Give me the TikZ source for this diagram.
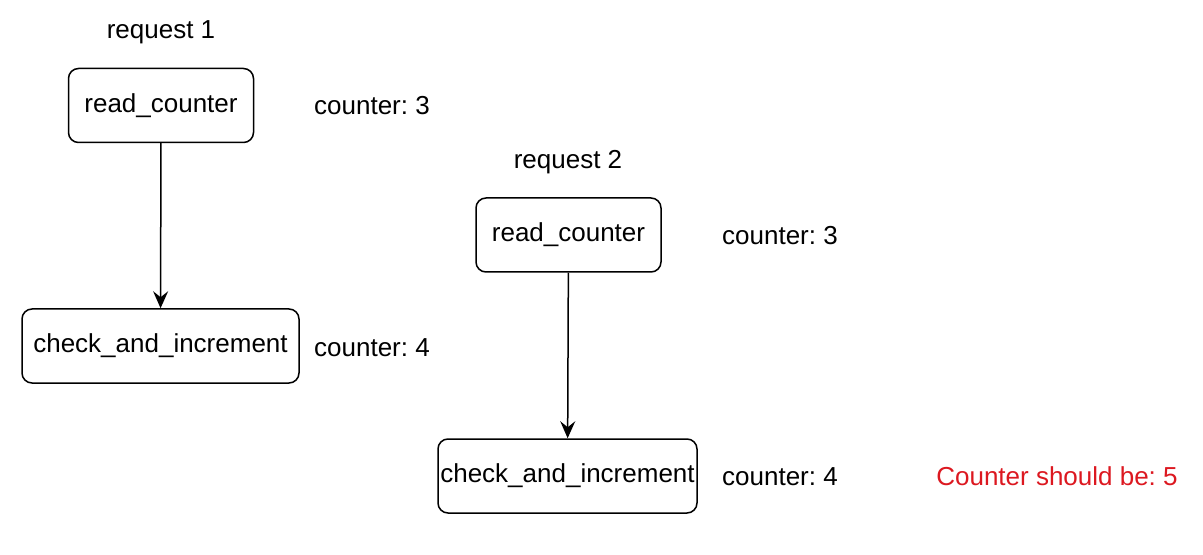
\documentclass[tikz,border=0pt]{standalone}
\usepackage{fontspec}
\setmainfont{Liberation Sans}
\usetikzlibrary{arrows.meta}
\definecolor{warnred}{RGB}{220,24,32}
\frenchspacing

\begin{document}
\begin{tikzpicture}[x=0.5pt,y=-0.5pt,font=\fontsize{13}{15}\selectfont]
	\tikzstyle{StepBox}=[draw,line width=0.75pt,rounded corners=5pt,inner sep=0pt,minimum height=37pt]
	\tikzstyle{Note}=[inner sep=0pt]
	\tikzstyle{Flow}=[line width=0.75pt,-{Stealth[length=8.5pt,width=7.5pt,inset=3pt]}]
	\useasboundingbox (0,0) rectangle (1203,555);
	\node[Note] (req1) at (161,32) {request 1};
	\node[StepBox,minimum width=92.5pt] (read1) at (161,105.5) {read\_counter};
	\node[StepBox,minimum width=138.5pt] (check1) at (160.5,346) {check\_and\_increment};
	\node[Note] (val1a) at (372,106) {counter: 3};
	\node[Note] (val1b) at (372,348) {counter: 4};
	\node[Note] (req2) at (568,162) {request 2};
	\node[StepBox,minimum width=92.5pt] (read2) at (568.5,235) {read\_counter};
	\node[StepBox,minimum width=129.5pt] (check2) at (567.5,476) {check\_and\_increment};
	\node[Note] (val2a) at (780,236) {counter: 3};
	\node[Note] (val2b) at (780,477) {counter: 4};
	\node[Note,text=warnred] (expect) at (1057,476) {Counter should be: 5};
	\draw[Flow] (read1) -- (check1);
	\draw[Flow] (read2) -- (check2);
\end{tikzpicture}
\end{document}
